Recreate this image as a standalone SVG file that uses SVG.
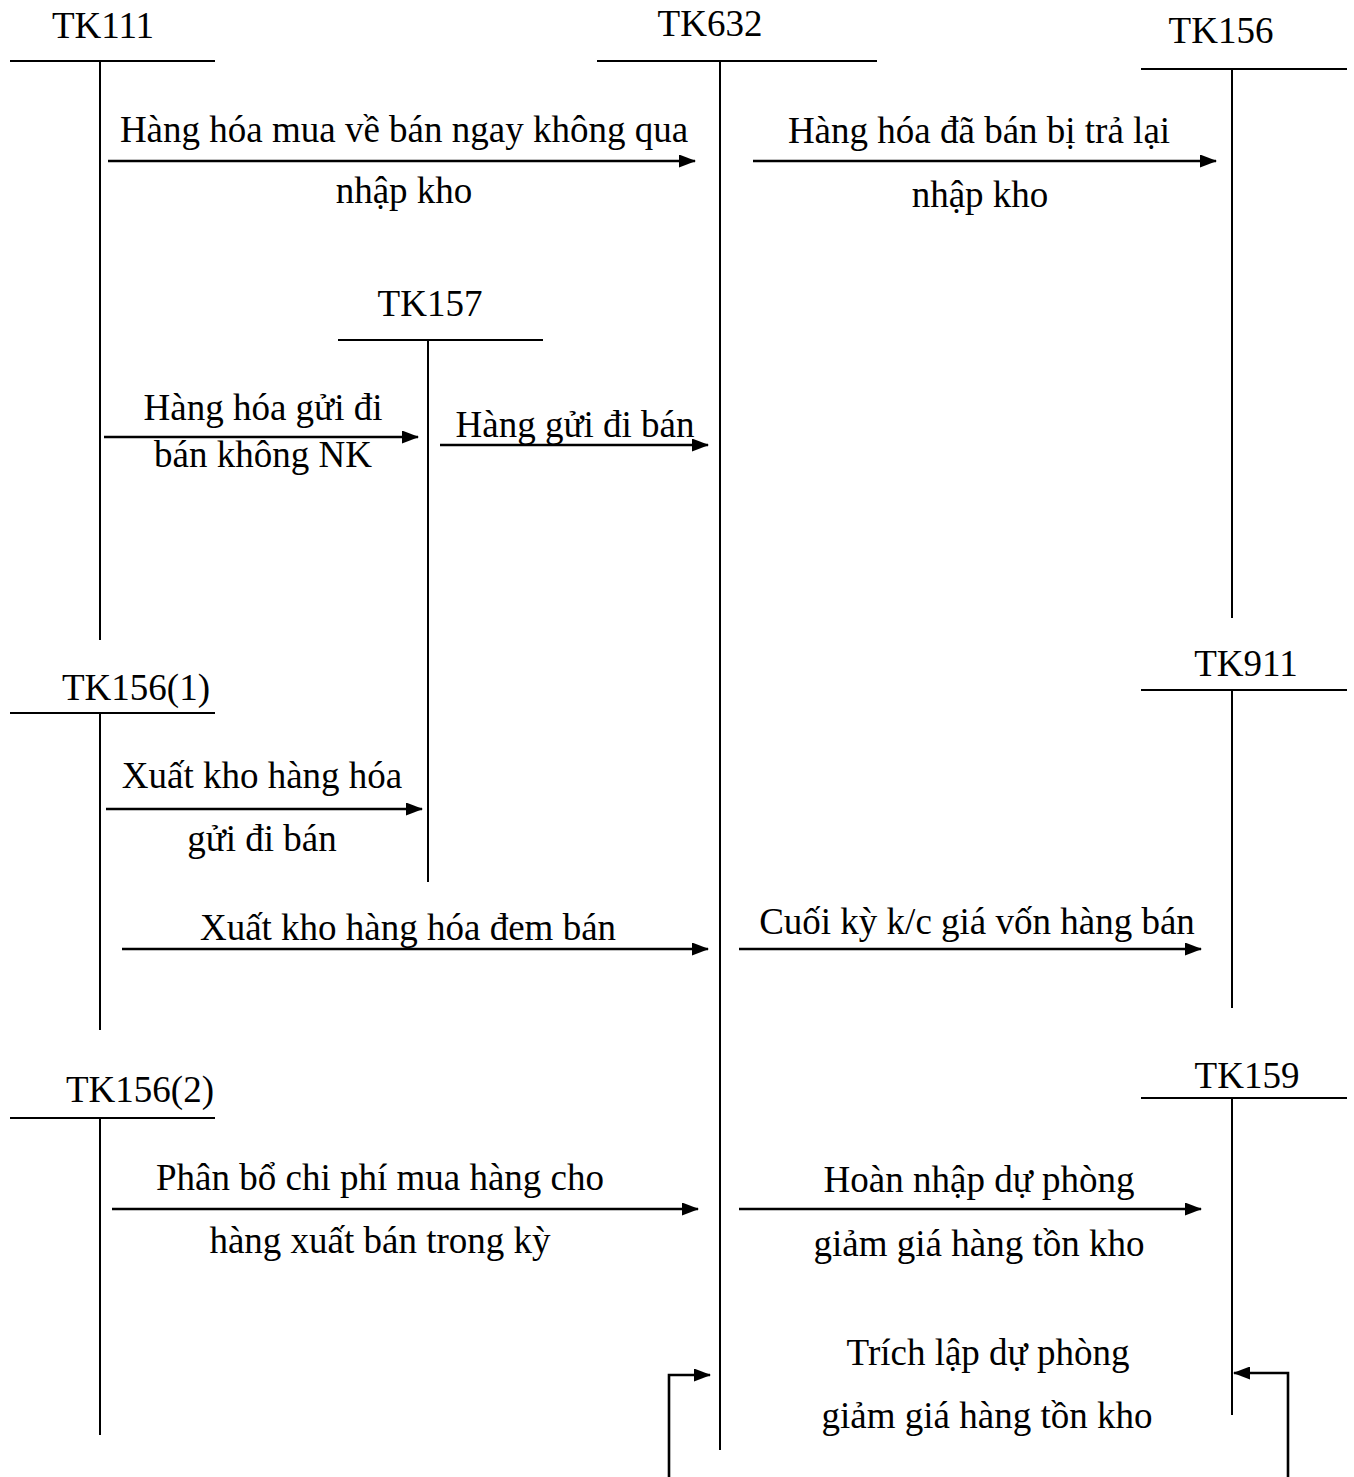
<svg xmlns="http://www.w3.org/2000/svg" width="1354" height="1477" viewBox="0 0 1354 1477">
  <style>
    text { font-family: "Liberation Serif", "Times New Roman", serif; font-size: 37px; fill: #000; text-anchor: middle; }
    .acct line { stroke: #000; stroke-width: 2; }
    #connectors line, #connectors polyline { stroke: #000; stroke-width: 2.6; fill: none; }
  </style>
  <defs>
    <marker id="arrow" markerWidth="17" markerHeight="13" refX="16" refY="6.5" orient="auto" markerUnits="userSpaceOnUse">
      <path d="M0,0 L17,6.5 L0,13 Z" fill="#000"/>
    </marker>
  </defs>
  <rect width="1354" height="1477" fill="#fff"/>

  <!-- T-accounts -->
  <g id="tk111" class="acct">
    <text x="103" y="38">TK111</text>
    <line x1="10" y1="61" x2="215" y2="61"/>
    <line x1="100" y1="61" x2="100" y2="640"/>
  </g>
  <g id="tk632" class="acct">
    <text x="710" y="36">TK632</text>
    <line x1="597" y1="61" x2="877" y2="61"/>
    <line x1="720" y1="61" x2="720" y2="1450"/>
  </g>
  <g id="tk156" class="acct">
    <text x="1221" y="43">TK156</text>
    <line x1="1141" y1="69" x2="1347" y2="69"/>
    <line x1="1232" y1="69" x2="1232" y2="618"/>
  </g>
  <g id="tk157" class="acct">
    <text x="430" y="316">TK157</text>
    <line x1="338" y1="340" x2="543" y2="340"/>
    <line x1="428" y1="340" x2="428" y2="882"/>
  </g>
  <g id="tk156-1" class="acct">
    <text x="136" y="700">TK156(1)</text>
    <line x1="10" y1="713" x2="215" y2="713"/>
    <line x1="100" y1="713" x2="100" y2="1030"/>
  </g>
  <g id="tk911" class="acct">
    <text x="1246" y="676">TK911</text>
    <line x1="1141" y1="690" x2="1347" y2="690"/>
    <line x1="1232" y1="690" x2="1232" y2="1008"/>
  </g>
  <g id="tk156-2" class="acct">
    <text x="140" y="1102">TK156(2)</text>
    <line x1="10" y1="1118" x2="215" y2="1118"/>
    <line x1="100" y1="1118" x2="100" y2="1435"/>
  </g>
  <g id="tk159" class="acct">
    <text x="1247" y="1088">TK159</text>
    <line x1="1141" y1="1098" x2="1347" y2="1098"/>
    <line x1="1232" y1="1098" x2="1232" y2="1415"/>
  </g>

  <!-- Entries between accounts -->
  <g id="connectors">
    <line x1="108" y1="161" x2="695" y2="161" marker-end="url(#arrow)"/>
    <line x1="753" y1="161" x2="1216" y2="161" marker-end="url(#arrow)"/>
    <line x1="104" y1="437" x2="418" y2="437" marker-end="url(#arrow)"/>
    <line x1="440" y1="445" x2="708" y2="445" marker-end="url(#arrow)"/>
    <line x1="106" y1="809" x2="422" y2="809" marker-end="url(#arrow)"/>
    <line x1="122" y1="949" x2="708" y2="949" marker-end="url(#arrow)"/>
    <line x1="739" y1="949" x2="1201" y2="949" marker-end="url(#arrow)"/>
    <line x1="112" y1="1209" x2="698" y2="1209" marker-end="url(#arrow)"/>
    <line x1="739" y1="1209" x2="1201" y2="1209" marker-end="url(#arrow)"/>
    <polyline points="669,1477 669,1375 710,1375" marker-end="url(#arrow)"/>
    <polyline points="1288,1477 1288,1373 1234,1373" marker-end="url(#arrow)"/>
  </g>

  <!-- Entry labels -->
  <g id="labels">
    <text x="404" y="142">Hàng hóa mua về bán ngay không qua</text>
    <text x="404" y="203">nhập kho</text>
    <text x="979" y="143">Hàng hóa đã bán bị trả lại</text>
    <text x="980" y="207">nhập kho</text>
    <text x="263" y="420">Hàng hóa gửi đi</text>
    <text x="263" y="467">bán không NK</text>
    <text x="575" y="437">Hàng gửi đi bán</text>
    <text x="262" y="788">Xuất kho hàng hóa</text>
    <text x="262" y="851">gửi đi bán</text>
    <text x="408" y="940">Xuất kho hàng hóa đem bán</text>
    <text x="977" y="934">Cuối kỳ k/c giá vốn hàng bán</text>
    <text x="380" y="1190">Phân bổ chi phí mua hàng cho</text>
    <text x="380" y="1253">hàng xuất bán trong kỳ</text>
    <text x="979" y="1192">Hoàn nhập dự phòng</text>
    <text x="979" y="1256">giảm giá hàng tồn kho</text>
    <text x="988" y="1365">Trích lập dự phòng</text>
    <text x="987" y="1428">giảm giá hàng tồn kho</text>
  </g>
</svg>
